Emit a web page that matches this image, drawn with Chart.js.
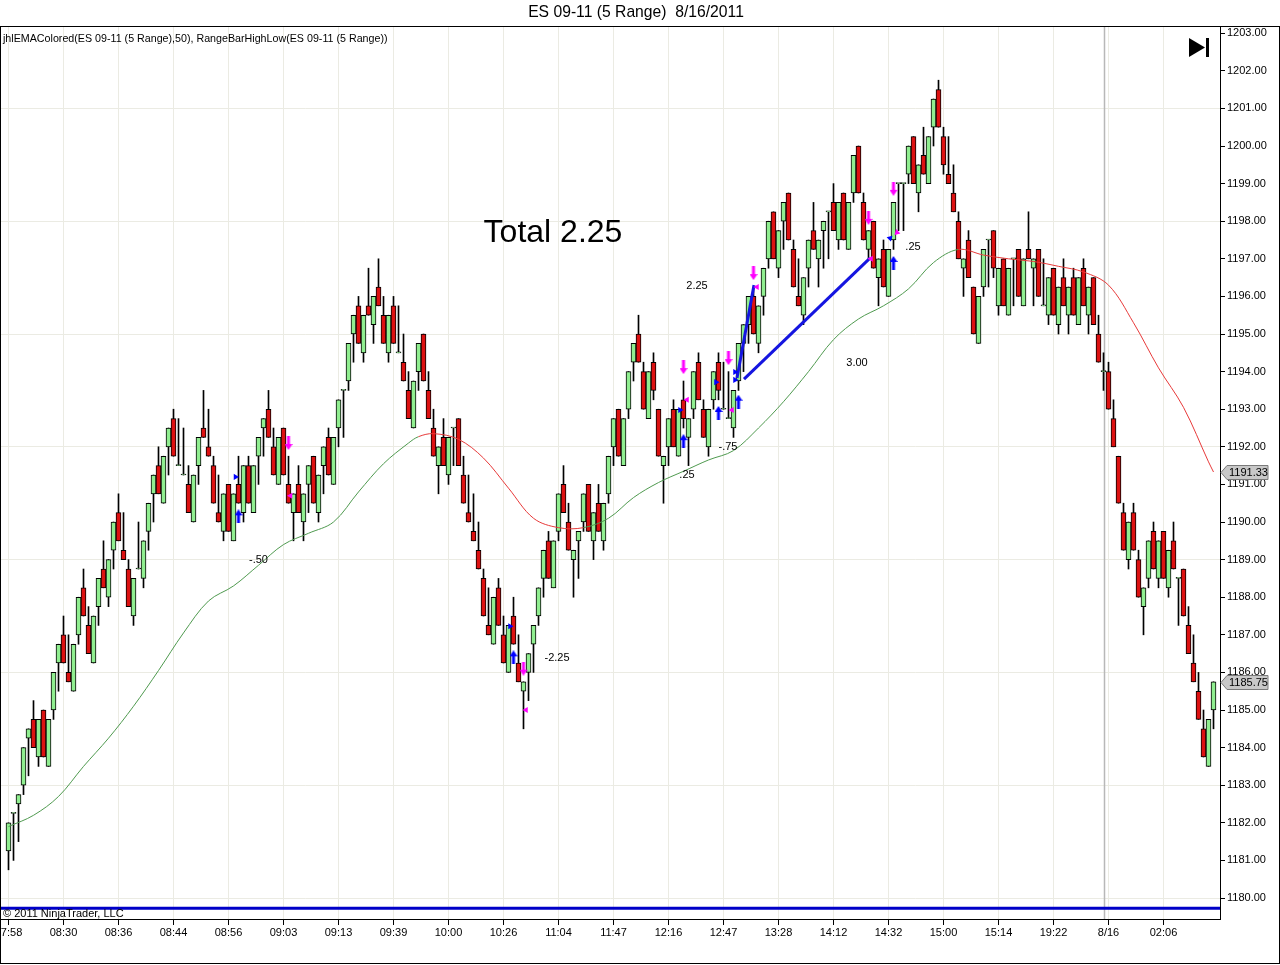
<!DOCTYPE html>
<html>
<head>
<meta charset="utf-8">
<title>ES 09-11 (5 Range) 8/16/2011</title>
<script src="https://cdn.jsdelivr.net/npm/chart.js@4.4.1/dist/chart.umd.min.js"></script>
<style>
  html, body { margin: 0; padding: 0; background: #fff; }
</style>
</head>
<body>
<canvas id="myChart" width="1280" height="965"></canvas>
<script>
// ES 09-11 5 range bars, 8/16/2011, with jhlEMAColored(50) and trade markers

// time axis: a label every 11 bars
const timeTickIdx = [0, 11, 22, 33, 44, 55, 66, 77, 88, 99, 110, 121, 132, 143, 154, 165, 176, 187, 198, 209, 220, 231];
const timeLabels = ['07:58', '08:30', '08:36', '08:44', '08:56', '09:03', '09:13', '09:39', '10:00', '10:26', '11:04',
    '11:47', '12:16', '12:47', '13:28', '14:12', '14:32', '15:00', '15:14', '19:22', '8/16', '02:06'];

// price axis
const priceTicks = [1180, 1181, 1182, 1183, 1184, 1185, 1186, 1187, 1188, 1189, 1190, 1191,
    1192, 1193, 1194, 1195, 1196, 1197, 1198, 1199, 1200, 1201, 1202, 1203];
const gridPrices = [1180, 1183, 1186, 1189, 1192, 1195, 1198, 1201];

// range bars (one row = 10 bars)
const opens = [
    1181.25, 1182.25, 1182.5, 1183, 1184.25, 1184.75, 1183.75, 1185, 1183.5, 1185,
    1186.25, 1187, 1186, 1185.5, 1187, 1188.25, 1187.25, 1186.25, 1187.75, 1188.75,
    1188, 1189.25, 1190.25, 1189.25, 1188.75, 1187.5, 1188.75, 1188.5, 1189.75, 1190.75,
    1191.5, 1190.5, 1192, 1192.75, 1191.5, 1191.25, 1191, 1190, 1191.5, 1192.5,
    1192, 1191.5, 1190.25, 1189.75, 1191, 1189.5, 1191, 1190.25, 1191.5, 1190.25,
    1191.75, 1192.5, 1193, 1192, 1191, 1192.5, 1191, 1190.25, 1191, 1190,
    1191, 1191.75, 1190.25, 1191.5, 1192.25, 1191, 1192.5, 1193.5, 1193.75, 1195,
    1195.75, 1194.5, 1195.75, 1195.25, 1196.25, 1195.5, 1194.5, 1195.75, 1194.5, 1194.25,
    1193.5, 1192.5, 1194, 1195, 1193.5, 1192.5, 1191.5, 1192.25, 1191.25, 1192.5,
    1192.75, 1191.25, 1190.25, 1189.75, 1189.25, 1188.5, 1187.25, 1186.75, 1188.25, 1187,
    1186, 1187.5, 1186.25, 1185.5, 1186, 1186.75, 1187.5, 1188.5, 1189.5, 1188.25,
    1189.75, 1191, 1190, 1189, 1189.5, 1190, 1191, 1189.5, 1190.5, 1189.5,
    1190.75, 1192, 1193, 1191.5, 1193, 1194.25, 1195, 1194, 1192.75, 1194.25,
    1193, 1191.5, 1192, 1193, 1191.75, 1193.25, 1192.25, 1193, 1194.25, 1193,
    1192, 1193.25, 1194.25, 1193, 1192.75, 1192.5, 1193.75, 1194.75, 1195.25, 1196,
    1194.75, 1196, 1197, 1198.25, 1196.75, 1198, 1198.75, 1197.25, 1196, 1195.5,
    1196.75, 1197.75, 1197, 1197.75, 1198.25, 1198.5, 1197.5, 1198.75, 1197.25, 1198.75,
    1200, 1198.5, 1197.25, 1198, 1196.5, 1197.25, 1196, 1197.5, 1199, 1199,
    1199.25, 1200.25, 1198.75, 1199.75, 1199, 1200.5, 1201.5, 1200.25, 1199.25, 1198.75,
    1198, 1196.75, 1197.5, 1196.25, 1194.75, 1196.25, 1197.5, 1197.75, 1195.75, 1197,
    1195.5, 1197, 1197.25, 1195.75, 1197.25, 1196.75, 1197.25, 1195.75, 1195.5, 1196.75,
    1195.25, 1196.5, 1195.5, 1196.5, 1195.25, 1196.75, 1195.5, 1196.5, 1195, 1194,
    1194, 1192.75, 1191.75, 1190.25, 1189, 1190.25, 1189, 1187.75, 1188.5, 1189.75,
    1188.5, 1189.75, 1188.25, 1189.5, 1188.5, 1188.75, 1187.25, 1186.25, 1185.5, 1184.5,
    1183.5, 1185
];
const highs = [
    1182, 1182.25, 1182.75, 1184, 1184.5, 1185.25, 1184.75, 1185, 1184.75, 1186,
    1186.75, 1187.5, 1187, 1186.75, 1188, 1188.75, 1187.75, 1187.5, 1188.5, 1189.5,
    1189, 1190, 1190.75, 1190.25, 1189, 1188.5, 1190, 1189.5, 1190.5, 1191.25,
    1192, 1191.75, 1192.5, 1193, 1192.75, 1192.5, 1191.5, 1191.25, 1192.25, 1193.5,
    1193, 1191.75, 1191.25, 1190.75, 1191, 1190.75, 1191.75, 1191.5, 1191.75, 1191.5,
    1192.25, 1192.75, 1193.5, 1192.5, 1192.25, 1192.5, 1191.75, 1190.75, 1191.5, 1190.75,
    1191.5, 1191.75, 1191.25, 1192, 1192.5, 1192.25, 1193.25, 1193.5, 1194.75, 1195.5,
    1196, 1195.5, 1196.75, 1196, 1197, 1196, 1195.5, 1196, 1195.75, 1195,
    1194, 1193.75, 1194.75, 1195, 1194, 1193, 1192, 1192.75, 1192.25, 1192.5,
    1192.75, 1191.75, 1191.25, 1190.75, 1190, 1188.75, 1188.25, 1188, 1188.5, 1187.5,
    1187.25, 1188, 1187, 1185.75, 1186.5, 1187.25, 1188.25, 1189.25, 1189.75, 1189.5,
    1190.75, 1191.5, 1190.5, 1189.25, 1189.75, 1190.75, 1191, 1190.25, 1191, 1190.5,
    1191.75, 1192.75, 1193, 1192.75, 1194, 1194.75, 1195.5, 1194.25, 1194, 1194.5,
    1193, 1191.75, 1192.75, 1193.25, 1193, 1193.75, 1192.75, 1194, 1194.5, 1193.25,
    1193, 1194, 1194.5, 1194.25, 1194, 1193.5, 1194.75, 1195.25, 1196, 1196.25,
    1195.75, 1196.75, 1198, 1198.25, 1197.75, 1198.5, 1198.75, 1197.5, 1197, 1196.5,
    1197.5, 1198.5, 1197.5, 1198, 1198.25, 1199, 1198.5, 1198.75, 1198.5, 1199.75,
    1200, 1198.75, 1197.75, 1198, 1197, 1197.5, 1197.25, 1198.5, 1199, 1199,
    1200, 1200.25, 1199.5, 1200.5, 1200.25, 1201.25, 1201.75, 1200.5, 1200.25, 1199.5,
    1198.25, 1197, 1197.75, 1196.25, 1196, 1197.25, 1197.5, 1197.75, 1196.75, 1197,
    1196.75, 1197, 1197.25, 1197, 1198.25, 1197, 1197.25, 1197, 1196.5, 1196.75,
    1196.25, 1197, 1196.25, 1196.75, 1196.5, 1197, 1196.25, 1196.5, 1195.5, 1194.5,
    1194.25, 1193.25, 1191.75, 1190.5, 1190, 1190.5, 1189.25, 1188.25, 1189.5, 1190,
    1189.5, 1189.75, 1189.25, 1190, 1188.5, 1188.75, 1187.75, 1187, 1186, 1185,
    1184.75, 1185.75
];
const lows = [
    1180.75, 1181, 1181.5, 1182.75, 1183.25, 1184, 1183.5, 1183.75, 1183.5, 1184.75,
    1185.5, 1186.25, 1185.75, 1185.5, 1186.75, 1187.5, 1186.5, 1186.25, 1187.25, 1188.25,
    1187.75, 1188.75, 1189.5, 1189, 1187.75, 1187.25, 1188.75, 1188.25, 1189.25, 1190,
    1190.75, 1190.5, 1191.25, 1191.75, 1191.5, 1191.25, 1190.25, 1190, 1191, 1192.25,
    1191.75, 1190.5, 1190, 1189.5, 1189.75, 1189.5, 1190.5, 1190, 1190.5, 1190.25,
    1191, 1191.75, 1192.25, 1191.25, 1191, 1191.25, 1190.5, 1189.5, 1190.25, 1189.5,
    1190.25, 1190.5, 1190, 1190.75, 1191.25, 1191, 1192, 1192.25, 1193.5, 1194.25,
    1194.75, 1194.25, 1195.5, 1194.75, 1195.75, 1194.75, 1194.25, 1194.75, 1194.5, 1193.75,
    1192.75, 1192.5, 1193.5, 1193.75, 1192.75, 1191.75, 1190.75, 1191.5, 1191, 1191.5,
    1191.5, 1190.5, 1190, 1189.5, 1188.75, 1187.5, 1187, 1186.75, 1187.25, 1186.25,
    1186, 1186.75, 1185.75, 1184.5, 1185.25, 1186, 1187.25, 1188, 1188.5, 1188.25,
    1189.5, 1190.25, 1189.25, 1188, 1188.5, 1189.75, 1189.75, 1189, 1189.75, 1189.25,
    1190.5, 1191.5, 1191.75, 1191.5, 1192.75, 1193.75, 1194.25, 1193, 1192.75, 1193.25,
    1191.75, 1190.5, 1191.5, 1192, 1191.75, 1192.5, 1191.5, 1192.75, 1193.25, 1192.25,
    1191.75, 1193, 1193.25, 1193, 1192.75, 1192.25, 1193.5, 1194, 1194.75, 1195,
    1194.5, 1195.5, 1196.75, 1197, 1196.5, 1197.25, 1197.5, 1196.25, 1195.75, 1195.25,
    1196.25, 1197.25, 1196.25, 1196.75, 1197, 1197.75, 1197.25, 1197.5, 1197.25, 1198.5,
    1198.75, 1197.5, 1197, 1196.75, 1195.75, 1196.25, 1196, 1197.25, 1197.75, 1197.75,
    1199, 1199, 1198.25, 1199.25, 1199, 1200, 1200.5, 1199.25, 1199, 1198.25,
    1197, 1196, 1196.5, 1195, 1194.75, 1196, 1196.25, 1196.5, 1195.5, 1195.75,
    1195.5, 1195.75, 1196, 1195.75, 1197, 1195.75, 1196, 1195.75, 1195.25, 1195.5,
    1195, 1195.75, 1195, 1195.5, 1195.25, 1195.75, 1195, 1195.25, 1194.25, 1193.5,
    1193, 1192, 1190.5, 1189.25, 1188.75, 1189.25, 1188, 1187, 1188.25, 1188.75,
    1188.25, 1188.5, 1188, 1188.75, 1187.25, 1187.5, 1186.5, 1185.75, 1184.75, 1183.75,
    1183.5, 1184.5
];
const closes = [
    1182, 1182.25, 1182.75, 1184, 1184.5, 1184, 1184.75, 1183.75, 1184.75, 1186,
    1186.75, 1186.25, 1185.75, 1186.75, 1188, 1187.5, 1186.5, 1187.5, 1188.5, 1188.25,
    1189, 1190, 1189.5, 1189, 1187.75, 1188.5, 1188.75, 1189.5, 1190.5, 1191.25,
    1190.75, 1191.75, 1192.5, 1191.75, 1191.5, 1191.25, 1190.25, 1191.25, 1192.25, 1192.25,
    1191.75, 1190.5, 1190, 1190.75, 1189.75, 1190.75, 1190.5, 1191.5, 1190.5, 1191.5,
    1192.25, 1192.75, 1192.25, 1191.25, 1192.25, 1191.25, 1190.5, 1190.75, 1190.25, 1190.75,
    1191.5, 1190.5, 1191.25, 1192, 1191.25, 1192.25, 1193.25, 1193.5, 1194.75, 1195.5,
    1194.75, 1195.5, 1195.5, 1196, 1195.75, 1194.75, 1195.5, 1194.75, 1194.5, 1193.75,
    1192.75, 1193.75, 1194.75, 1193.75, 1192.75, 1191.75, 1192, 1191.5, 1192.25, 1192.5,
    1191.5, 1190.5, 1190, 1189.5, 1188.75, 1187.5, 1187, 1188, 1187.25, 1186.25,
    1187.25, 1186.75, 1185.75, 1185.75, 1186.5, 1187.25, 1188.25, 1189.25, 1188.5, 1189.5,
    1190.75, 1190.25, 1189.25, 1189.25, 1189.75, 1190.75, 1189.75, 1190.25, 1189.75, 1190.5,
    1191.75, 1192.75, 1191.75, 1192.75, 1194, 1194.75, 1194.25, 1193, 1194, 1193.5,
    1191.75, 1191.75, 1192.75, 1192, 1193, 1192.75, 1192.75, 1194, 1193.25, 1192.25,
    1193, 1194, 1193.5, 1193, 1192.75, 1193.5, 1194.75, 1195.25, 1196, 1195,
    1195.75, 1196.75, 1198, 1197, 1197.75, 1198.5, 1197.5, 1196.25, 1195.75, 1196.5,
    1197.5, 1197.25, 1197.5, 1198, 1198.25, 1197.75, 1198.5, 1197.5, 1198.5, 1199.75,
    1198.75, 1197.5, 1197.75, 1196.75, 1197, 1196.25, 1197.25, 1198.5, 1199, 1199,
    1200, 1199, 1199.5, 1199.25, 1200.25, 1201.25, 1200.5, 1199.5, 1199, 1198.25,
    1197, 1197, 1196.5, 1195, 1196, 1197.25, 1197.5, 1196.75, 1196.75, 1195.75,
    1196.75, 1197, 1196, 1197, 1197, 1197, 1196, 1195.75, 1196.5, 1195.5,
    1196.25, 1195.75, 1196.25, 1195.5, 1196.5, 1195.75, 1196.25, 1195.25, 1194.25, 1194,
    1193, 1192, 1190.5, 1189.25, 1190, 1189.25, 1188, 1188.25, 1189.5, 1188.75,
    1189.5, 1188.5, 1189.25, 1188.75, 1188.5, 1187.5, 1186.5, 1185.75, 1184.75, 1183.75,
    1184.75, 1185.75
];

// EMA(50) every few bars
const emaIdx = [0, 5, 10, 15, 20, 25, 30, 35, 40, 45, 50, 55, 60, 65, 70, 75, 80, 82, 85, 90,
    95, 100, 105, 110, 115, 120, 125, 130, 135, 140, 145, 150, 155, 160, 165, 170, 175, 180, 185, 190,
    195, 200, 205, 210, 215, 220, 225, 230, 235, 240, 241];
const emaVals = [1181.9, 1182.2, 1182.7, 1183.5, 1184.25, 1185.1, 1186.05, 1187.05, 1187.9, 1188.3,
    1188.85, 1189.4, 1189.7, 1190.0, 1190.8, 1191.55, 1192.1, 1192.27, 1192.35, 1192.2,
    1191.7, 1190.9, 1190.1, 1189.85, 1189.85, 1190.1, 1190.65, 1191.05, 1191.35, 1191.65,
    1191.9, 1192.5, 1193.2, 1194.0, 1194.85, 1195.4, 1195.75, 1196.2, 1196.9, 1197.25,
    1197.1, 1197.0, 1196.93, 1196.8, 1196.65, 1196.3, 1195.3, 1194.1, 1193.05, 1191.6, 1191.33];

// strategy markers
const buyArrowX = [46, 101, 135, 142, 146, 177];
const buyArrowY = [1190.15, 1186.4, 1192.15, 1192.9, 1193.2, 1196.89];
const sellArrowX = [56, 103, 135, 144, 149, 172, 177];
const sellArrowY = [1192.1, 1186.1, 1194.12, 1194.36, 1196.62, 1198.09, 1198.86];
const blueTriX = [45.4, 100.3, 134.3, 141.5, 145.3, 145.3, 176.3];
const blueTriY = [1191.2, 1187.23, 1192.98, 1193.72, 1193.99, 1193.78, 1197.55];
const magTriX = [56.4, 103.5, 135.7, 144.7, 149.7, 172.5, 177.7];
const magTriY = [1190.7, 1185.0, 1193.25, 1192.98, 1196.25, 1197.0, 1197.7];

// trade lines and trade results
const tradeLineX = [[145.7, 149.1], [147.1, 172.3]];
const tradeLineY = [[1193.83, 1196.3], [1193.8, 1197.02]];
const tradeText = ['-.50', '-2.25', '.25', '-.75', '2.25', '3.00', '.25'];
const tradeTextX = [50, 109.7, 135.7, 143.9, 137.7, 169.7, 180.9];
const tradeTextY = [1189.0, 1186.38, 1191.25, 1192.0, 1196.28, 1194.23, 1197.31];
const totalText = 'Total 2.25';
const totalX = 108.9;
const totalY = 1197.69;

// other reference lines / markers
const bottomLineY = 1179.73;
const sessionBreakIdx = 219;
const priceMarkers = [1191.33, 1185.75];

const FONT = '"Liberation Sans", Arial, sans-serif';
const xMin = -1.5, xMax = 242.3;
const yMin = 1179.442, yMax = 1203.165;
const upColor = '#90ee90';
const downColor = '#dd1111';
const emaGreen = '#4f9a4f';
const emaRed = '#e83a3a';

// draw an arrow used as a point style
function makeArrow(color, down) {
    const c = document.createElement('canvas');
    c.width = 8;
    c.height = 14;
    const g = c.getContext('2d');
    g.fillStyle = color;
    if (down) {
        g.translate(0, 14);
        g.scale(1, -1);
    }
    g.beginPath();
    g.moveTo(4, 0);
    g.lineTo(8, 6);
    g.lineTo(5.5, 6);
    g.lineTo(5.5, 14);
    g.lineTo(2.5, 14);
    g.lineTo(2.5, 6);
    g.lineTo(0, 6);
    g.closePath();
    g.fill();
    return c;
}

function emaIsRed(start) {
    return (start >= 82 && start < 115) || start >= 190;
}

// text, frame and right-axis price boxes
const decor = {
    id: 'decor',
    beforeDraw(chart) {
        const ctx = chart.ctx;
        ctx.save();
        ctx.fillStyle = '#fff';
        ctx.fillRect(0, 0, chart.width, chart.height);
        ctx.restore();
    },
    beforeDatasetsDraw(chart) {
        const ctx = chart.ctx;
        const a = chart.chartArea;
        const x = Math.round(chart.scales.x.getPixelForValue(sessionBreakIdx)) + 0.5;
        ctx.save();
        ctx.strokeStyle = '#b8b8b8';
        ctx.lineWidth = 1.5;
        ctx.beginPath();
        ctx.moveTo(x, a.top);
        ctx.lineTo(x, a.bottom);
        ctx.stroke();
        ctx.restore();
    },
    afterDraw(chart) {
        const ctx = chart.ctx;
        const a = chart.chartArea;
        const xs = chart.scales.x;
        const ys = chart.scales.y;
        ctx.save();
        // frame
        ctx.strokeStyle = '#000';
        ctx.lineWidth = 1;
        ctx.strokeRect(0.5, a.top - 0.5, chart.width - 1, chart.height - a.top - 1);
        ctx.beginPath();
        ctx.moveTo(a.right + 0.5, a.top);
        ctx.lineTo(a.right + 0.5, a.bottom);
        ctx.moveTo(0, a.bottom + 0.5);
        ctx.lineTo(a.right, a.bottom + 0.5);
        ctx.stroke();

        ctx.fillStyle = '#000';
        ctx.textBaseline = 'middle';
        // title
        ctx.font = '15.7px ' + FONT;
        ctx.textAlign = 'center';
        ctx.fillText('ES 09-11 (5 Range)  8/16/2011', 636, 13);
        // indicator legend and copyright
        ctx.font = '10.7px ' + FONT;
        ctx.textAlign = 'left';
        ctx.fillText('jhlEMAColored(ES 09-11 (5 Range),50), RangeBarHighLow(ES 09-11 (5 Range))', 3, 39);
        ctx.font = '11px ' + FONT;
        ctx.fillText('\u00a9 2011 NinjaTrader, LLC', 3, 914);
        // trade results
        ctx.textAlign = 'center';
        for (let k = 0; k < tradeText.length; k++) {
            ctx.fillText(tradeText[k], xs.getPixelForValue(tradeTextX[k]), ys.getPixelForValue(tradeTextY[k]));
        }
        ctx.font = '32px ' + FONT;
        ctx.fillText(totalText, xs.getPixelForValue(totalX), ys.getPixelForValue(totalY));

        // "scroll to end" icon
        ctx.beginPath();
        ctx.moveTo(1189, 38);
        ctx.lineTo(1205, 47.5);
        ctx.lineTo(1189, 57);
        ctx.closePath();
        ctx.fill();
        ctx.fillRect(1206, 38, 3, 19);

        // price boxes on the axis
        ctx.font = '11px ' + FONT;
        ctx.textAlign = 'left';
        for (const p of priceMarkers) {
            const y = Math.round(ys.getPixelForValue(p)) + 0.5;
            ctx.beginPath();
            ctx.moveTo(a.right + 1, y);
            ctx.lineTo(a.right + 7, y - 7);
            ctx.lineTo(a.right + 48, y - 7);
            ctx.lineTo(a.right + 48, y + 7);
            ctx.lineTo(a.right + 7, y + 7);
            ctx.closePath();
            ctx.fillStyle = '#c8c8c8';
            ctx.fill();
            ctx.strokeStyle = '#7a7a7a';
            ctx.stroke();
            ctx.fillStyle = '#000';
            ctx.fillText(p.toFixed(2), a.right + 9, y);
        }
        ctx.restore();
    }
};

const bodyColors = opens.map((o, i) => closes[i] < o ? downColor : upColor);

const datasets = [
    {
        type: 'line',
        label: 'bottom line',
        data: [{x: xMin, y: bottomLineY}, {x: xMax, y: bottomLineY}],
        borderColor: '#0000c8',
        borderWidth: 3,
        pointRadius: 0,
        order: 9
    },
    {
        type: 'bar',
        label: 'wicks',
        data: highs.map((h, i) => ({x: i, y: [lows[i], h]})),
        backgroundColor: '#000',
        barThickness: 1,
        grouped: false,
        order: 8
    },
    {
        type: 'bar',
        label: 'bodies',
        data: opens.map((o, i) => ({x: i, y: [o, closes[i]]})),
        backgroundColor: bodyColors,
        borderColor: '#000',
        borderWidth: 1,
        borderSkipped: false,
        barThickness: 5,
        minBarLength: 1,
        grouped: false,
        order: 7
    },
    {
        type: 'line',
        label: 'EMA 50',
        data: emaIdx.map((x, k) => ({x: x, y: emaVals[k]})),
        borderWidth: 1,
        borderColor: emaGreen,
        pointRadius: 0,
        tension: 0.35,
        segment: {
            borderColor: ctx => emaIsRed(emaIdx[ctx.p0DataIndex]) ? emaRed : emaGreen
        },
        order: 6
    }
];

// trade lines
tradeLineX.forEach((xs, k) => {
    datasets.push({
        type: 'line',
        label: 'trade ' + k,
        data: xs.map((x, j) => ({x: x, y: tradeLineY[k][j]})),
        borderColor: '#1515e0',
        borderWidth: 3,
        pointRadius: 0,
        order: 5
    });
});

datasets.push(
    {
        type: 'scatter',
        label: 'exit long',
        data: blueTriX.map((x, k) => ({x: x, y: blueTriY[k]})),
        pointStyle: 'triangle',
        pointRadius: 3.5,
        pointRotation: [90, 90, 90, 90, 90, 90, 45],
        backgroundColor: '#0000ff',
        borderWidth: 0,
        order: 4
    },
    {
        type: 'scatter',
        label: 'exit short',
        data: magTriX.map((x, k) => ({x: x, y: magTriY[k]})),
        pointStyle: 'triangle',
        pointRadius: 3.5,
        pointRotation: [-90, -90, -90, -90, -90, -90, -135],
        backgroundColor: '#ff00ff',
        borderWidth: 0,
        order: 4
    },
    {
        type: 'scatter',
        label: 'buy',
        data: buyArrowX.map((x, k) => ({x: x, y: buyArrowY[k]})),
        pointStyle: makeArrow('#0000ff', false),
        pointRadius: 7,
        order: 3
    },
    {
        type: 'scatter',
        label: 'sell',
        data: sellArrowX.map((x, k) => ({x: x, y: sellArrowY[k]})),
        pointStyle: makeArrow('#ff00ff', true),
        pointRadius: 7,
        order: 3
    }
);

const config = {
    type: 'bar',
    data: { datasets: datasets },
    options: {
        responsive: false,
        animation: false,
        devicePixelRatio: 1,
        layout: { autoPadding: false, padding: { top: 27, left: 1, right: 0, bottom: 0 } },
        plugins: {
            legend: { display: false },
            tooltip: { enabled: false },
            title: { display: false }
        },
        scales: {
            x: {
                type: 'linear',
                min: xMin,
                max: xMax,
                offset: false,
                afterBuildTicks: scale => {
                    scale.ticks = timeTickIdx.map(v => ({value: v}));
                },
                afterFit: scale => {
                    scale.height = 46;
                    scale.paddingLeft = 0;
                    scale.paddingRight = 0;
                },
                ticks: {
                    autoSkip: false,
                    maxRotation: 0,
                    padding: 1,
                    color: '#000',
                    font: { family: FONT, size: 11 },
                    callback: (value, index) => timeLabels[index]
                },
                grid: { color: '#ebebe3', tickColor: '#000', tickLength: 6, offset: false },
                border: { color: '#000' }
            },
            y: {
                position: 'right',
                min: yMin,
                max: yMax,
                afterBuildTicks: scale => {
                    scale.ticks = priceTicks.map(v => ({value: v}));
                },
                afterFit: scale => {
                    scale.width = 60;
                    scale.paddingTop = 0;
                    scale.paddingBottom = 0;
                },
                ticks: {
                    padding: 2,
                    color: '#000',
                    font: { family: FONT, size: 11 },
                    callback: value => Number(value).toFixed(2)
                },
                grid: {
                    color: ctx => (ctx.tick && gridPrices.includes(ctx.tick.value)) ? '#ebebe3' : 'rgba(0,0,0,0)',
                    tickColor: '#000',
                    tickLength: 5
                },
                border: { color: '#000' }
            }
        }
    },
    plugins: [decor]
};

const myChart = new Chart(document.getElementById('myChart'), config);
</script>
</body>
</html>
